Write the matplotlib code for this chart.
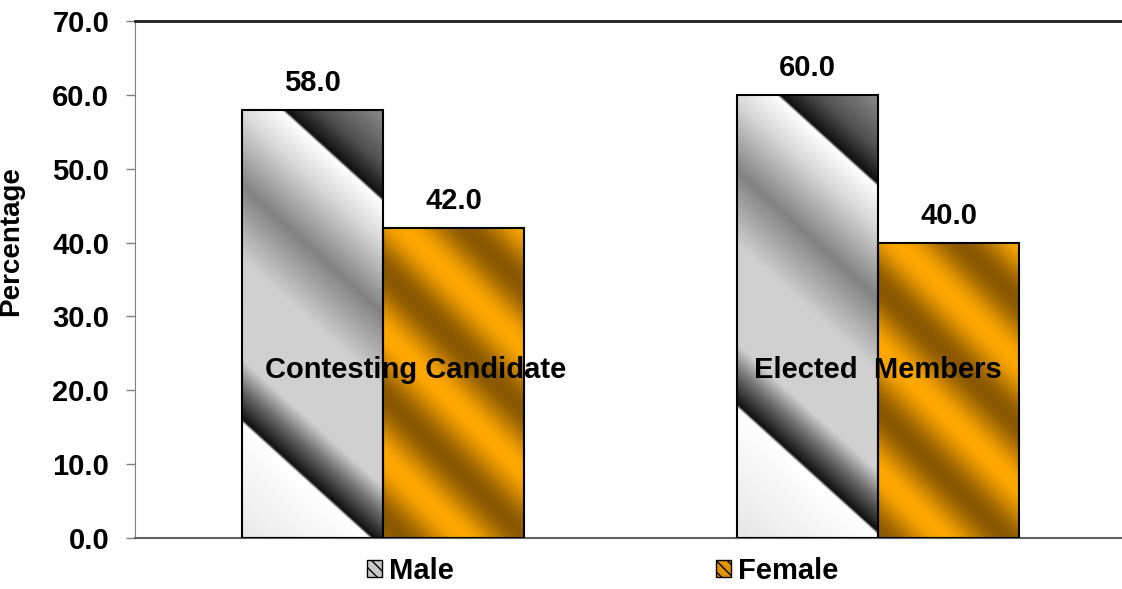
import numpy as np
import matplotlib
matplotlib.use("Agg")
import matplotlib.pyplot as plt
from matplotlib.patches import Patch
from matplotlib.colors import to_rgb

plt.rcParams['font.family'] = ['Liberation Sans', 'DejaVu Sans']

# data
categories = ["Contesting Candidate", "Elected  Members"]
series = ["Male", "Female"]
male = [58.0, 60.0]
female = [42.0, 40.0]
yticks = [0, 10, 20, 30, 40, 50, 60, 70]

fig = plt.figure(figsize=(11.22, 5.89), dpi=100)
W, H = 1122, 589
ax = fig.add_axes([135 / W, 51 / H, 987 / W, 517 / H])
ax.set_xlim(-0.501, 1.493)
ax.set_ylim(0, 70)

bw = 0.285
x = np.arange(len(categories))

# gradient looks for the two series (pixel space, relative to bar top-left)
male_stops = [(-500, '#e4e4e4'), (-344, '#ffffff'), (-340, '#101010'), (-306, '#6a6a6a'),
              (-274, '#d0d0d0'), (-165, '#d0d0d0'), (-84, '#828282'), (-10, '#d6d6d6'),
              (38, '#ffffff'), (42, '#101010'), (78, '#505050'), (160, '#a0a0a0')]
orange_hi = np.array(to_rgb('#ffa800'))
orange_lo = np.array(to_rgb('#8a5800'))


def male_fill(cols, rows):
    d = cols - 1.1 * rows
    pos = [s[0] for s in male_stops]
    c = np.array([to_rgb(s[1]) for s in male_stops])
    return np.stack([np.interp(d, pos, c[:, k]) for k in range(3)], axis=-1)


def female_fill(cols, rows):
    d = cols - rows
    s = (np.cos(2 * np.pi * (d - 19) / 124) + 1) / 2
    return orange_lo + (orange_hi - orange_lo) * s[..., None]


def fill_bar(rect, func):
    x0, y0 = rect.get_x(), rect.get_y()
    x1, y1 = x0 + rect.get_width(), y0 + rect.get_height()
    p0 = ax.transData.transform((x0, y0))
    p1 = ax.transData.transform((x1, y1))
    wpx = int(round(p1[0] - p0[0]))
    hpx = int(round(p1[1] - p0[1]))
    cols, rows = np.meshgrid(np.arange(wpx), np.arange(hpx))
    img = func(cols, rows)
    im = ax.imshow(img, extent=(x0, x1, y0, y1), origin='upper', aspect='auto',
                   interpolation='bilinear', zorder=2)
    im.set_clip_path(rect)


bars_m = ax.bar(x - bw / 2, male, bw, facecolor='none', edgecolor='black', lw=1.5, zorder=3)
bars_f = ax.bar(x + bw / 2, female, bw, facecolor='none', edgecolor='black', lw=1.5, zorder=3)
for r in bars_m:
    fill_bar(r, male_fill)
for r in bars_f:
    fill_bar(r, female_fill)
ax.set_xlim(-0.501, 1.493)
ax.set_ylim(0, 70)

for bars, vals in [(bars_m, male), (bars_f, female)]:
    for r, v in zip(bars, vals):
        ax.annotate(f"{v:.1f}", (r.get_x() + r.get_width() / 2, v), xytext=(0, 9),
                    textcoords='offset points', ha='center', va='bottom',
                    fontsize=21, fontweight='bold', zorder=5)

# category names sit inside the plot
label_dx = [0.065, 0.0]
for i, c in enumerate(categories):
    ax.text(x[i] + label_dx[i], 22.7, c, ha='center', va='center',
            fontsize=21, fontweight='bold', zorder=5)

ax.set_xticks([])
ax.set_yticks(yticks)
ax.set_yticklabels([f"{t:.1f}" for t in yticks], fontsize=21, fontweight='bold')
ax.tick_params(axis='y', direction='out', length=6.5, width=1, color='#808080', pad=12)
ax.set_ylabel("Percentage", fontsize=20, fontweight='bold')
ax.yaxis.set_label_coords(-0.112, 0.575)

ax.spines['right'].set_visible(False)
ax.spines['top'].set_color('#202020')
ax.spines['top'].set_linewidth(2)
ax.spines['left'].set_color('#808080')
ax.spines['bottom'].set_color('#606060')
ax.spines['bottom'].set_linewidth(1.5)

handles = [Patch(facecolor='#c8c8c8', edgecolor='black', hatch='\\\\\\', lw=1),
           Patch(facecolor='#e09400', edgecolor='black', hatch='\\\\\\', lw=1)]
fig.legend(handles, series, loc='center left', bbox_to_anchor=(367 / W, 1 - 571 / H),
           ncol=2, frameon=False, borderpad=0, borderaxespad=0,
           handlelength=0.5, handleheight=0.5, handletextpad=0.25, columnspacing=9.0,
           prop={'size': 21, 'weight': 'bold'})

fig.savefig("out.png", dpi=100)
